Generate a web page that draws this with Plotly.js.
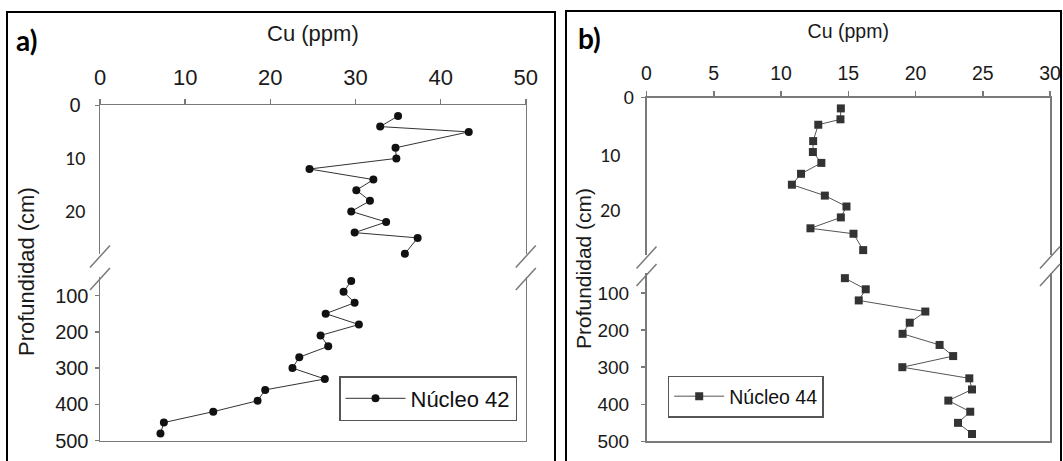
<!DOCTYPE html>
<html><head><meta charset="utf-8">
<script src="https://cdn.plot.ly/plotly-3.0.1.min.js"></script>
<style>html,body{margin:0;padding:0;background:#fff}</style>
</head><body>
<div id="chart" style="width:1063px;height:461px"></div>
<script>
// ---- data ----
const depth = [2,4,5,8,10,12,14,16,18,20,22,24,25,28,60,90,120,150,180,210,240,270,300,330,360,390,420,450,480];
const cuCore42 = [35.0,32.9,43.3,34.7,34.8,24.6,32.1,30.1,31.7,29.5,33.6,29.9,37.3,35.8,29.5,28.6,29.9,26.5,30.4,25.9,26.8,23.4,22.6,26.4,19.4,18.5,13.3,7.5,7.1];
const cuCore44 = [14.45,14.42,12.77,12.39,12.37,13.0,11.49,10.81,13.26,14.87,14.45,12.19,15.39,16.11,14.75,16.3,15.78,20.73,19.57,19.04,21.79,22.8,19.02,24.0,24.2,22.44,24.07,23.16,24.2];
const seriesNames = ['Núcleo 42','Núcleo 44'];
const xTicksA = [0,10,20,30,40,50];
const xTicksB = [0,5,10,15,20,25,30];
const yTickTop0 = [0];
const yTicksTop = [10,20];
const yTicksBottom = [100,200,300,400,500];
const xTitle = 'Cu (ppm)';
const yTitle = 'Profundidad (cm)';
const panelLabels = ['a)','b)'];
const breakDepth = 30;

// ---- helpers ----
const W = 1063, H = 461;
const px2x = p => p / W;
const px2y = p => 1 - p / H;
const GRAY = '#7a7a7a';
const ARIAL = 'Liberation Sans, Arial, sans-serif';
const CAL = 'Carlito, Lato, sans-serif';
const TXT = '#1a1a1a';

function split(vals) {
  const top = {x: [], y: []}, bot = {x: [], y: []};
  depth.forEach((d, i) => {
    const t = d <= breakDepth ? top : bot;
    t.x.push(vals[i]); t.y.push(d);
  });
  return [top, bot];
}
const [a1, a2] = split(cuCore42);
const [b1, b2] = split(cuCore44);

const styleA = {mode: 'lines+markers', marker: {symbol: 'circle', size: 8, color: '#111'}, line: {color: '#333', width: 1}, cliponaxis: false};
const styleB = {mode: 'lines+markers', marker: {symbol: 'square', size: 8, color: '#333'}, line: {color: '#555', width: 1}, cliponaxis: false};

const traces = [
  Object.assign({x: a1.x, y: a1.y, xaxis: 'x', yaxis: 'y', name: seriesNames[0], legend: 'legend', showlegend: true}, styleA),
  Object.assign({x: a2.x, y: a2.y, xaxis: 'x2', yaxis: 'y2', name: seriesNames[0], showlegend: false}, styleA),
  Object.assign({x: b1.x, y: b1.y, xaxis: 'x3', yaxis: 'y3', name: seriesNames[1], legend: 'legend2', showlegend: true}, styleB),
  Object.assign({x: b2.x, y: b2.y, xaxis: 'x4', yaxis: 'y4', name: seriesNames[1], showlegend: false}, styleB)
];

// panel geometry (px)
const PA = {x0: 100, x1: 525.8, top: 105.4, topEnd: 254, botStart: 277, bot: 440.7, pxPerCmTop: 5.3, pxPerCmBot: 0.363};
const PB = {x0: 646.5, x1: 1050, top: 97.5, topEnd: 255, botStart: 273, bot: 441.4, pxPerCmTop: 5.45, pxPerCmBot: 0.371};

function baseAxis(extra) {
  return Object.assign({showgrid: false, zeroline: false, showline: true, linecolor: GRAY, linewidth: 1.5,
    tickcolor: GRAY, tickwidth: 1.5, autorange: false}, extra);
}

function panelAxes(P, xmax, xticks, fs, fsx, top0Stand, botStand, xStand) {
  const topRange = [(P.topEnd - P.top) / P.pxPerCmTop, 0];
  const botRange = [500, 500 - (P.bot - P.botStart) / P.pxPerCmBot];
  const xdom = [px2x(P.x0), px2x(P.x1)];
  return {
    xTop: baseAxis({domain: xdom, range: [0, xmax], side: 'top', tickvals: xticks, ticks: 'outside', ticklen: 5,
      tickfont: {family: ARIAL, size: fsx, color: TXT}, ticklabelstandoff: xStand}),
    xBot: baseAxis({domain: xdom, range: [0, xmax], side: 'bottom', ticks: '', showticklabels: false}),
    yTop: baseAxis({domain: [px2y(P.topEnd), px2y(P.top)], range: topRange, tickvals: yTickTop0, ticks: 'outside', ticklen: 4,
      mirror: true, tickfont: {family: ARIAL, size: fs, color: TXT}, ticklabelstandoff: top0Stand}),
    yBot: baseAxis({domain: [px2y(P.bot), px2y(P.botStart)], range: botRange, tickvals: yTicksBottom, ticks: 'outside', ticklen: 4,
      mirror: true, tickfont: {family: ARIAL, size: fs, color: TXT}, ticklabelstandoff: botStand})
  };
}

const A = panelAxes(PA, 50, xTicksA, 20, 22, 10, 2, 5);
const B = panelAxes(PB, 30, xTicksB, 19, 19.5, 3, 8, 3);

const annotations = [
  {text: '<b>' + panelLabels[0] + '</b>', xref: 'paper', yref: 'paper', x: px2x(14), y: px2y(40), xanchor: 'left', yanchor: 'middle', showarrow: false,
    font: {family: 'Lato, sans-serif', size: 28, color: '#000'}},
  {text: '<b>' + panelLabels[1] + '</b>', xref: 'paper', yref: 'paper', x: px2x(576), y: px2y(38), xanchor: 'left', yanchor: 'middle', showarrow: false,
    font: {family: 'Lato, sans-serif', size: 28, color: '#000'}},
  {text: yTitle, textangle: -90, xref: 'paper', yref: 'paper', x: px2x(26), y: px2y(272), xanchor: 'center', yanchor: 'middle', showarrow: false,
    font: {family: ARIAL, size: 22, color: TXT}},
  {text: yTitle, textangle: -90, xref: 'paper', yref: 'paper', x: px2x(583), y: px2y(269), xanchor: 'center', yanchor: 'middle', showarrow: false,
    font: {family: ARIAL, size: 21, color: TXT}}
];
// upper-segment depth labels (placed on the depth scale of each panel)
yTicksTop.forEach(v => {
  annotations.push({text: String(v), xref: 'paper', yref: 'y', x: px2x(87), y: v, xanchor: 'right', yanchor: 'middle', showarrow: false,
    font: {family: CAL, size: 20, color: TXT}});
  annotations.push({text: String(v), xref: 'paper', yref: 'y3', x: px2x(622), y: v, xanchor: 'right', yanchor: 'middle', yshift: -3, showarrow: false,
    font: {family: CAL, size: 20, color: TXT}});
});

const layout = {
  width: W, height: H, margin: {l: 0, r: 0, t: 0, b: 0}, paper_bgcolor: '#fff', plot_bgcolor: 'rgba(0,0,0,0)',
  font: {family: ARIAL, color: TXT},
  xaxis: Object.assign(A.xTop, {anchor: 'y', title: {text: xTitle, font: {family: ARIAL, size: 22, color: TXT}, standoff: 17}}),
  xaxis2: Object.assign(A.xBot, {anchor: 'y2', matches: 'x'}),
  yaxis: Object.assign(A.yTop, {anchor: 'x'}),
  yaxis2: Object.assign(A.yBot, {anchor: 'x2'}),
  xaxis3: Object.assign(B.xTop, {anchor: 'y3', title: {text: xTitle, font: {family: ARIAL, size: 19.5, color: TXT}, standoff: 18}}),
  xaxis4: Object.assign(B.xBot, {anchor: 'y4', matches: 'x3'}),
  yaxis3: Object.assign(B.yTop, {anchor: 'x3'}),
  yaxis4: Object.assign(B.yBot, {anchor: 'x4'}),
  legend: {x: px2x(339), y: px2y(376), xanchor: 'left', yanchor: 'top', bgcolor: '#fff', bordercolor: '#555', borderwidth: 1.5,
    font: {family: ARIAL, size: 22, color: '#111'}, itemwidth: 60},
  legend2: {x: px2x(667.7), y: px2y(375.5), xanchor: 'left', yanchor: 'top', bgcolor: '#fff', bordercolor: '#555', borderwidth: 1.5,
    font: {family: ARIAL, size: 19.5, color: '#111'}, itemwidth: 50},
  annotations: annotations,
  shapes: []
};

// panel frames
layout.shapes.push({type: 'rect', xref: 'paper', yref: 'paper', x0: px2x(7), x1: px2x(555), y0: -0.05, y1: px2y(12), line: {color: '#000', width: 2}});
layout.shapes.push({type: 'rect', xref: 'paper', yref: 'paper', x0: px2x(566), x1: px2x(1061), y0: -0.05, y1: px2y(11), line: {color: '#000', width: 2}});
// axis-break marks
function breakMarks(P) {
  [P.x0, P.x1].forEach(cx => {
    [P.topEnd + 2.5, P.botStart + 2].forEach(cy => {
      layout.shapes.push({type: 'line', xref: 'paper', yref: 'paper', x0: px2x(cx - 10), y0: px2y(cy + 11), x1: px2x(cx + 10), y1: px2y(cy - 11),
        line: {color: GRAY, width: 1.5}});
    });
  });
}
breakMarks(PA); breakMarks(PB);

Plotly.newPlot('chart', traces, layout, {staticPlot: true, displayModeBar: false});
</script>
</body></html>
